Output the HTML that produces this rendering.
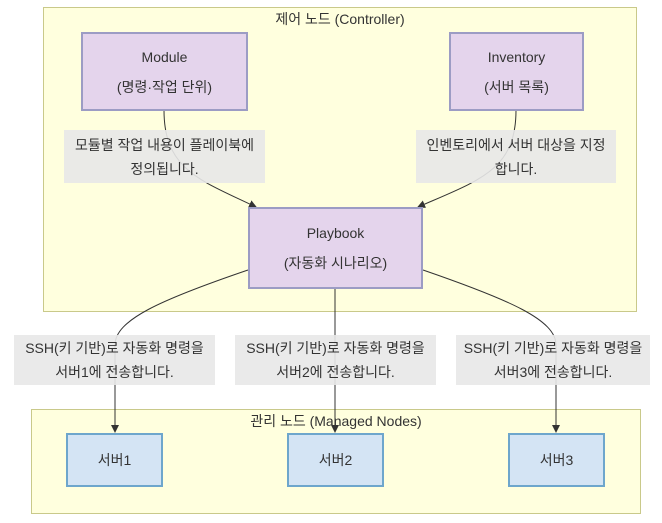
<!DOCTYPE html>
<html><head><meta charset="utf-8"><style>
body{margin:0;width:662px;height:523px;background:#fff;font-family:"Liberation Sans","Noto Sans CJK KR",sans-serif;position:relative;overflow:hidden}
.a{position:absolute;box-sizing:border-box}
.g{background:#ffffde;border:1px solid #c9c98a}
.p{background:#e4d4ec;border:2px solid #9c9cc4;display:flex;flex-direction:column;align-items:center;justify-content:center;font-size:14px;color:#333;line-height:30px;text-align:center}
.s{background:#d4e4f4;border:2px solid #6ea6cc;display:flex;align-items:center;justify-content:center;font-size:14px;color:#333}
.l{background:rgba(232,232,232,.9);font-size:14px;color:#333;text-align:center;line-height:24px;display:flex;align-items:center;justify-content:center;white-space:nowrap}
.t{font-size:14px;color:#333;text-align:center;white-space:nowrap}
</style></head><body>
<div class="a g" style="left:43px;top:7px;width:594px;height:305px"></div>
<div class="a t" style="left:43px;top:9px;width:594px">제어 노드 (Controller)</div>
<div class="a g" style="left:31px;top:409px;width:610px;height:105px"></div>
<div class="a t" style="left:31px;top:411px;width:610px">관리 노드 (Managed Nodes)</div>
<svg class="a" style="left:0;top:0" width="662" height="523">
<defs><marker id="m" markerWidth="8" markerHeight="8" refX="7" refY="4" orient="auto"><path d="M0,0L8,4L0,8z" fill="#333"/></marker></defs>
<g fill="none" stroke="#333" stroke-width="1">
<path d="M164,110C164,170 200,180 256,207" marker-end="url(#m)"/>
<path d="M516,110C516,170 480,180 418,207" marker-end="url(#m)"/>
<path d="M248,270C160,300 115,320 115,345L115,432" marker-end="url(#m)"/>
<path d="M335,288L335,432" marker-end="url(#m)"/>
<path d="M423,270C510,300 556,320 556,345L556,432" marker-end="url(#m)"/>
</g></svg>
<div class="a p" style="left:81px;top:32px;width:167px;height:79px"><div>Module</div><div>(명령·작업 단위)</div></div>
<div class="a p" style="left:449px;top:32px;width:135px;height:79px"><div>Inventory</div><div>(서버 목록)</div></div>
<div class="a p" style="left:248px;top:207px;width:175px;height:82px"><div>Playbook</div><div>(자동화 시나리오)</div></div>
<div class="a l" style="left:64px;top:130px;width:201px;height:53px;flex-direction:column"><div>모듈별 작업 내용이 플레이북에</div><div>정의됩니다.</div></div>
<div class="a l" style="left:416px;top:130px;width:200px;height:53px;flex-direction:column"><div>인벤토리에서 서버 대상을 지정</div><div>합니다.</div></div>
<div class="a l" style="left:14px;top:335px;width:201px;height:50px;flex-direction:column"><div>SSH(키 기반)로 자동화 명령을</div><div>서버1에 전송합니다.</div></div>
<div class="a l" style="left:235px;top:335px;width:201px;height:50px;flex-direction:column"><div>SSH(키 기반)로 자동화 명령을</div><div>서버2에 전송합니다.</div></div>
<div class="a l" style="left:456px;top:335px;width:194px;height:50px;flex-direction:column"><div>SSH(키 기반)로 자동화 명령을</div><div>서버3에 전송합니다.</div></div>
<div class="a s" style="left:66px;top:433px;width:97px;height:54px">서버1</div>
<div class="a s" style="left:287px;top:433px;width:97px;height:54px">서버2</div>
<div class="a s" style="left:508px;top:433px;width:97px;height:54px">서버3</div>
</body></html>
